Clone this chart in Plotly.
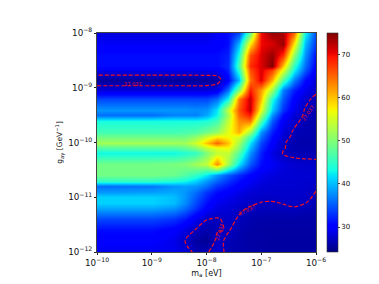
import plotly.graph_objects as go

log_m = [-10, -9, -8.6, -8.4, -8.2, -8, -7.8, -7.6, -7.4, -7.2, -7, -6.8, -6.6, -6.4, -6.2, -6]
log_g = [-12, -11.8, -11.6, -11.4, -11.2, -11.1, -11, -10.9, -10.8, -10.7, -10.6, -10.4, -10.2, -10.1,
         -10, -9.9, -9.8, -9.6, -9.5, -9.4, -9.2, -9.05, -8.85, -8.67, -8.6, -8.4, -8.2, -8]
chi2 = [
    [29, 29, 29, 28.3, 26.5, 26.8, 28, 26.4, 26.2, 26, 25.9, 25.8, 25.8, 25.8, 25.8, 25.8],
    [30, 30, 28.9, 27.1, 25.8, 25.2, 27.6, 26.6, 26.2, 25.9, 25.8, 25.7, 25.7, 25.7, 25.7, 25.7],
    [31, 31, 30, 28.5, 26.9, 26.2, 26.9, 27.15, 26.4, 26, 25.9, 25.8, 25.8, 25.8, 25.8, 25.8],
    [34, 34, 33, 31.5, 29, 27.1, 26.85, 27.5, 26.85, 26.3, 26.1, 26, 26, 26, 26, 26],
    [39, 39, 38, 36, 33, 30, 28.5, 28, 27.3, 26.9, 26.9, 26.85, 26.85, 26.95, 26.6, 26.4],
    [41, 41, 40, 37.5, 34, 31, 29, 28.5, 27.8, 27.3, 27.0, 26.95, 27.1, 27.3, 27.1, 26.6],
    [41, 41, 40, 38, 35, 32, 30, 29, 28.2, 27.6, 27.3, 27.3, 27.5, 27.5, 27.4, 26.8],
    [38, 38.5, 39, 38, 36, 33, 31, 30, 28.8, 28, 27.7, 27.6, 27.6, 27.6, 27.5, 27.0],
    [36, 36.5, 38, 38.5, 38, 36, 33, 31.5, 30, 28.8, 28, 27.8, 27.7, 27.7, 27.6, 27.3],
    [45, 45, 44, 43, 41, 38, 35.5, 33, 31, 29.5, 28.5, 28, 27.9, 27.8, 27.7, 27.5],
    [49, 49, 48.5, 47, 45, 42, 38, 35, 32.5, 30.5, 29, 28.4, 28, 27.9, 27.8, 27.7],
    [49, 49, 49.5, 50, 52, 54, 63, 52, 42, 35, 31, 29.5, 28.3, 27.7, 27.6, 27.5],
    [43, 43, 43, 44, 45, 50, 54, 54, 47, 38, 32, 28.5, 26.9, 26.6, 26.5, 26.5],
    [47, 47, 47, 48, 50, 54, 56, 57, 50, 40, 33, 29.5, 27.2, 26.4, 26.3, 26.3],
    [52, 52, 52, 52, 55, 60, 65, 60, 52, 42, 34, 30, 27.3, 26.3, 26.2, 26.2],
    [49, 49, 49, 49, 51, 55, 58, 57, 55, 46, 36, 31, 27.8, 26.6, 26.3, 26.2],
    [46, 46, 46, 46.5, 47, 49, 51, 56, 61, 52, 38, 32, 28.2, 26.8, 26.4, 26.3],
    [43.5, 43.5, 43.5, 43.5, 43.5, 44, 46, 54, 63, 64, 47, 35, 29.5, 27.6, 26.5, 26.4],
    [36, 36, 37, 37, 37, 39, 43, 52, 65, 69, 52, 38, 31, 28, 26.8, 26.4],
    [38, 38, 38, 38, 37.5, 38, 42, 54, 66, 72, 56, 41, 33, 29, 26.9, 26.4],
    [34, 34, 34, 34, 34, 34, 36, 43, 64, 72, 60, 44, 35, 30, 27.7, 26.5],
    [28.2, 28.2, 28.2, 28.2, 28.2, 28.2, 29, 36, 50, 69, 62, 52, 37, 32, 29, 27.5],
    [25.5, 25.5, 25.5, 25.5, 25.5, 25.6, 25.8, 30, 40, 64, 71, 61, 47, 37, 31, 28],
    [29, 29, 29, 29, 29, 29, 29.3, 32, 45, 66, 71, 67, 56, 43, 35, 29.5],
    [31, 31, 31, 31, 31, 31, 31, 32.5, 47, 68, 71, 75, 60, 45, 36, 30],
    [31, 31, 31, 31, 31, 31, 31, 32, 44, 66, 71, 74, 68, 51, 38, 31],
    [29.5, 29.5, 29.5, 29.5, 29.5, 29.5, 30, 31, 40, 58, 70, 71, 74, 58, 40, 33],
    [28.5, 28.5, 28.5, 28.5, 28.5, 28.5, 29.5, 31, 34, 48, 70, 74, 73, 65, 43, 34],
]
contour_level = 27.037
contour_label = "27.037"
label_log_m = [-9.34, -7.77, -7.26, -6.15]
label_log_g = [-8.94, -11.63, -11.23, -9.46]
label_angle = [0, -72, -27, -55]
colorbar_ticks = [30, 40, 50, 60, 70]
z_min, z_max = 24.2, 75

jet = [
    [0, "rgb(0,0,127)"], [0.11, "rgb(0,0,255)"], [0.125, "rgb(0,0,255)"],
    [0.34, "rgb(0,219,255)"], [0.35, "rgb(0,230,247)"], [0.375, "rgb(20,255,226)"],
    [0.64, "rgb(238,255,8)"], [0.65, "rgb(247,245,0)"], [0.66, "rgb(255,236,0)"],
    [0.89, "rgb(255,18,0)"], [0.91, "rgb(232,0,0)"], [1, "rgb(127,0,0)"],
]

x = [10.0 ** v for v in log_m]
y = [10.0 ** v for v in log_g]
FONT = "DejaVu Sans"

fig = go.Figure()
fig.add_trace(go.Heatmap(
    x=x, y=y, z=chi2, zsmooth="best", colorscale=jet, zmin=z_min, zmax=z_max,
    colorbar=dict(
        x=1.05, xanchor="left", xpad=0, y=0.5, yanchor="middle", ypad=0, len=1, lenmode="fraction",
        thickness=11, thicknessmode="pixels", tickvals=colorbar_ticks, ticks="outside", ticklen=2,
        tickwidth=0.6, tickfont=dict(family=FONT, size=7, color="#111"),
        outlinewidth=0.6, outlinecolor="#333",
    ),
))
fig.add_trace(go.Contour(
    x=x, y=y, z=chi2, showscale=False, hoverinfo="skip",
    contours=dict(coloring="none", start=contour_level, end=contour_level, size=1, showlabels=False),
    line=dict(color="#f01020", width=1.2, dash="4px,2px"),
))
for lx, ly, ang in zip(label_log_m, label_log_g, label_angle):
    fig.add_annotation(x=lx, y=ly, xref="x", yref="y", text=contour_label, textangle=ang, showarrow=False,
                       font=dict(family=FONT, size=5, color="#e01020"))
axis = dict(type="log", dtick=1, exponentformat="power", ticks="outside", ticklen=2.5, tickwidth=0.6,
            tickcolor="#222", showline=True, linecolor="#444", linewidth=0.7, mirror=True,
            showgrid=False, zeroline=False, tickfont=dict(family=FONT, size=7, color="#111"))
fig.update_xaxes(range=[-10, -6], title=dict(text="m<sub>a</sub> [eV]", font=dict(family=FONT, size=8, color="#111"), standoff=3), **axis)
fig.update_yaxes(range=[-12, -8], title=dict(text="g<sub>aγ</sub> [GeV<sup>−1</sup>]", font=dict(family=FONT, size=7.5, color="#111"), standoff=4), **axis)
fig.update_layout(width=371, height=276, margin=dict(l=89, r=63, t=25, b=32, autoexpand=False),
                  paper_bgcolor="white", plot_bgcolor="white", showlegend=False,
                  font=dict(family=FONT, size=7))
fig.write_html("out.html")
